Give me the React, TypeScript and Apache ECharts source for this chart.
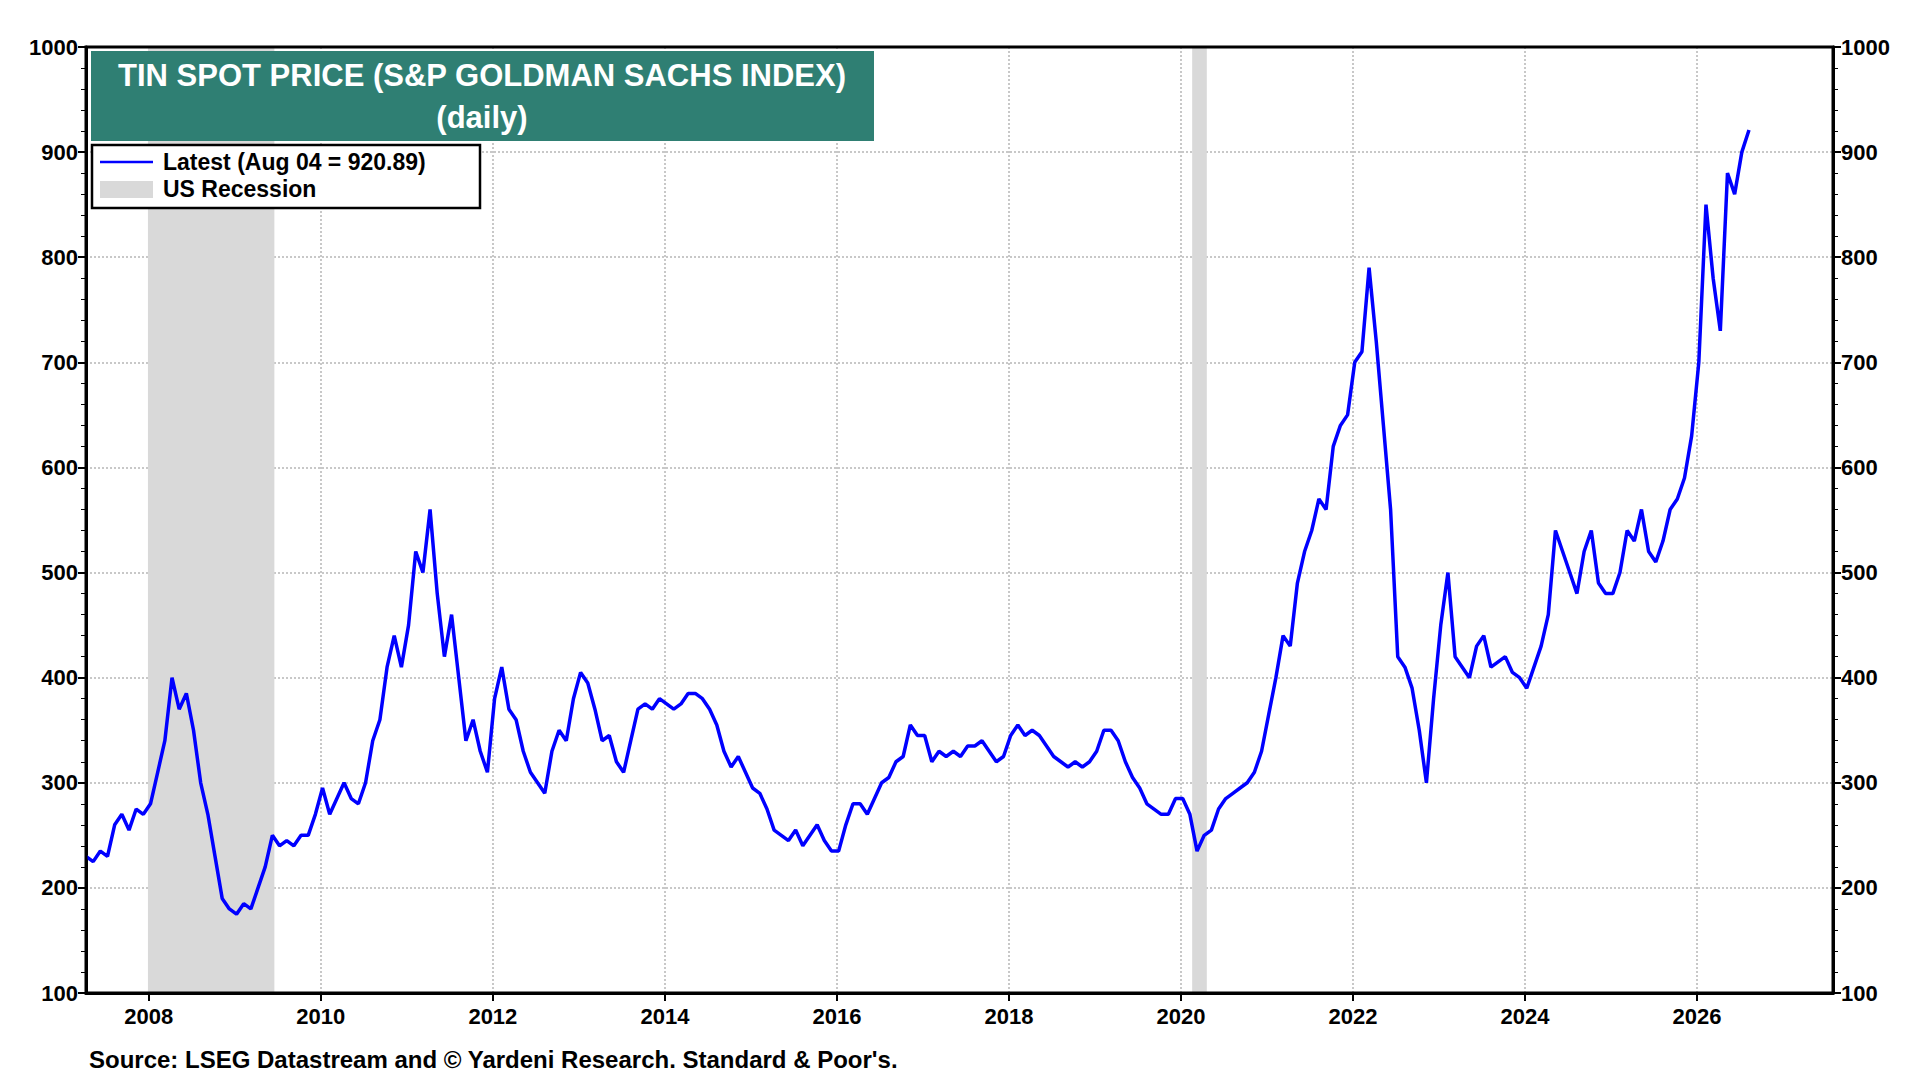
import { useEffect, useRef } from 'react'
import * as echarts from 'echarts'

const startYear = 2007
const startMonth = 4 // April 2007
const monthlyValues = [
  230, 225, 235, 230, 260, 270, 255, 275, 270,
  280, 310, 340, 400, 370, 385, 350, 300, 270, 230, 190, 180,
  175, 185, 180, 200, 220, 250, 240, 245, 240, 250, 250, 270,
  295, 270, 285, 300, 285, 280, 300, 340, 360, 410, 440, 410,
  450, 520, 500, 560, 480, 420, 460, 400, 340, 360, 330, 310,
  380, 410, 370, 360, 330, 310, 300, 290, 330, 350, 340, 380,
  405, 395, 370, 340, 345, 320, 310, 340, 370, 375, 370, 380,
  375, 370, 375, 385, 385, 380, 370, 355, 330, 315, 325, 310,
  295, 290, 275, 255, 250, 245, 255, 240, 250, 260, 245, 235,
  235, 260, 280, 280, 270, 285, 300, 305, 320, 325, 355, 345,
  345, 320, 330, 325, 330, 325, 335, 335, 340, 330, 320, 325,
  345, 355, 345, 350, 345, 335, 325, 320, 315, 320, 315, 320,
  330, 350, 350, 340, 320, 305, 295, 280, 275, 270, 270, 285,
  285, 270, 235, 250, 255, 275, 285, 290, 295, 300, 310, 330,
  365, 400, 440, 430, 490, 520, 540, 570, 560, 620, 640, 650,
  700, 710, 790, 720, 640, 560, 420, 410, 390, 350, 300, 380,
  450, 500, 420, 410, 400, 430, 440, 410, 415, 420, 405, 400,
  390, 410, 430, 460, 540, 520, 500, 480, 520, 540, 490, 480,
  480, 500, 540, 530, 560, 520, 510, 530, 560, 570, 590, 630,
  700, 850, 780, 730, 880, 860, 900, 921,
]
const recessions: [number, number][] = [
  [2007.99, 2009.46],
  [2020.13, 2020.3],
]
const yearTicks = [2008, 2010, 2012, 2014, 2016, 2018, 2020, 2022, 2024, 2026]

export default function App() {
  const elRef = useRef<HTMLDivElement>(null)

  useEffect(() => {
    if (!elRef.current) return
    const chart = echarts.init(elRef.current, null, { renderer: 'svg' })
    const data = monthlyValues.map((v, i) => [startYear + (startMonth - 1 + i) / 12 + 0.02, v])
    const font = 'Arial, "Liberation Sans", sans-serif'
    const yAxisBase = {
      type: 'value',
      min: 100,
      max: 1000,
      interval: 100,
      axisLine: { show: true, lineStyle: { color: '#000', width: 3 } },
      axisTick: { show: true, length: 8, lineStyle: { color: '#000', width: 2 } },
      minorTick: { show: true, splitNumber: 5, length: 5, lineStyle: { color: '#000' } },
      axisLabel: { color: '#000', fontWeight: 'bold', fontSize: 22, fontFamily: font, formatter: (v: number) => String(v) },
    }
    chart.setOption({
      animation: false,
      grid: { left: 86, right: 87, top: 47, bottom: 87 },
      xAxis: {
        type: 'value',
        min: 2007.27,
        max: 2027.58,
        axisLine: { lineStyle: { color: '#000', width: 3 } },
        axisTick: { customValues: yearTicks, length: 8, lineStyle: { color: '#000', width: 2 } },
        axisLabel: { customValues: yearTicks, color: '#000', fontWeight: 'bold', fontSize: 22, fontFamily: font, margin: 12, formatter: (v: number) => String(v) },
        splitLine: { show: true, lineStyle: { color: '#c8c8c8', type: 'dotted', width: 2 } },
      },
      yAxis: [
        { ...yAxisBase, position: 'left', splitLine: { show: true, lineStyle: { color: '#c8c8c8', type: 'dotted', width: 2 } } },
        { ...yAxisBase, position: 'right', splitLine: { show: false } },
      ],
      series: [
        {
          type: 'line',
          data,
          showSymbol: false,
          lineStyle: { color: '#0000ff', width: 3.5 },
          markArea: {
            silent: true,
            itemStyle: { color: '#d9d9d9' },
            data: recessions.map(([a, b]) => [{ xAxis: a }, { xAxis: b }]),
          },
          z: 3,
        },
      ],
      graphic: [
        { type: 'rect', shape: { x: 86, y: 47, width: 1747, height: 946 }, style: { fill: 'none', stroke: '#000', lineWidth: 3 }, z: 10 },
        { type: 'rect', shape: { x: 91, y: 51, width: 783, height: 90 }, style: { fill: '#2f7f73' }, z: 20 },
        { type: 'text', x: 482, y: 75, style: { text: 'TIN SPOT PRICE (S&P GOLDMAN SACHS INDEX)', fill: '#fff', font: `bold 31px ${font}`, align: 'center', verticalAlign: 'middle' }, z: 21 },
        { type: 'text', x: 482, y: 117, style: { text: '(daily)', fill: '#fff', font: `bold 31px ${font}`, align: 'center', verticalAlign: 'middle' }, z: 21 },
        { type: 'rect', shape: { x: 92, y: 145, width: 388, height: 63 }, style: { fill: '#fff', stroke: '#000', lineWidth: 2.5 }, z: 20 },
        { type: 'line', shape: { x1: 100, y1: 162, x2: 153, y2: 162 }, style: { stroke: '#0000ff', lineWidth: 2.5 }, z: 21 },
        { type: 'text', x: 163, y: 162, style: { text: 'Latest (Aug 04 = 920.89)', fill: '#000', font: `bold 23px ${font}`, verticalAlign: 'middle' }, z: 21 },
        { type: 'rect', shape: { x: 100, y: 181, width: 53, height: 17 }, style: { fill: '#d9d9d9' }, z: 21 },
        { type: 'text', x: 163, y: 189, style: { text: 'US Recession', fill: '#000', font: `bold 23px ${font}`, verticalAlign: 'middle' }, z: 21 },
        { type: 'text', x: 89, y: 1059, style: { text: "Source: LSEG Datastream and © Yardeni Research. Standard & Poor's.", fill: '#000', font: `bold 24px ${font}`, verticalAlign: 'middle' }, z: 21 },
      ],
    })
    return () => chart.dispose()
  }, [])

  return <div ref={elRef} style={{ position: 'fixed', left: 0, top: 0, width: 1920, height: 1080, background: '#fff' }} />
}
